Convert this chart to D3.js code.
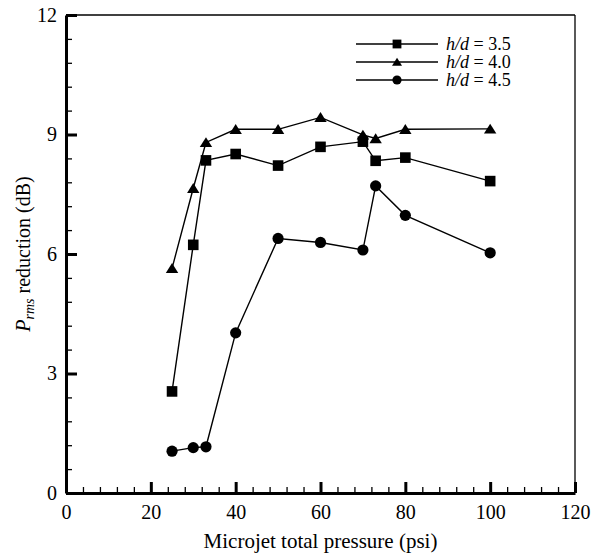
<!DOCTYPE html>
<html>
<head>
<meta charset="utf-8">
<script src="https://cdn.jsdelivr.net/npm/d3@7"></script>
<style>
  body { margin: 0; background: #fff; }
  text { font-family: "Liberation Serif", "Tinos", "Times New Roman", "DejaVu Serif", serif; }
</style>
</head>
<body>
<svg id="chart" width="591" height="555"></svg>
<script>
// microjet total pressure (psi)
const pressure = [25, 30, 33, 40, 50, 60, 70, 73, 80, 100];
// Prms reduction (dB) for each h/d
const hd35 = [2.55, 6.23, 8.35, 8.51, 8.22, 8.69, 8.82, 8.34, 8.42, 7.83];
const hd40 = [5.64, 7.65, 8.80, 9.13, 9.13, 9.43, 8.99, 8.90, 9.13, 9.14];
const hd45 = [1.05, 1.14, 1.16, 4.02, 6.39, 6.29, 6.10, 7.71, 6.97, 6.03];
const seriesNames = ['3.5', '4.0', '4.5'];
const xTicks = [0, 20, 40, 60, 80, 100, 120];
const yTicks = [0, 3, 6, 9, 12];

const plotL = 66, plotR = 575, plotT = 15, plotB = 493;

const svg = d3.select('#chart');

const x = d3.scaleLinear().domain([0, 120]).range([plotL, plotR]);
const y = d3.scaleLinear().domain([0, 12]).range([plotB, plotT]);

// marker shapes
const tri = s => `M0,${-s * 0.85}L${s},${s * 0.75}L${-s},${s * 0.75}Z`;
const shapes = [
  g => g.append('rect').attr('x', -5.3).attr('y', -5.3).attr('width', 10.6).attr('height', 10.6),
  g => g.append('path').attr('d', tri(6.2)),
  g => g.append('circle').attr('r', 5.6)
];
const legendShapes = [
  g => g.append('rect').attr('x', -4.4).attr('y', -4.4).attr('width', 8.8).attr('height', 8.8),
  g => g.append('path').attr('d', tri(5)),
  g => g.append('circle').attr('r', 4.6)
];

const series = [hd35, hd40, hd45].map((vals, i) =>
  ({ name: seriesNames[i], points: pressure.map((p, j) => ({ p: p, v: vals[j] })) }));

// thin frame on top / right
svg.append('line').attr('x1', plotL).attr('x2', plotR).attr('y1', plotT).attr('y2', plotT)
  .attr('stroke', '#000').attr('stroke-width', 1.3);
svg.append('line').attr('x1', plotR).attr('x2', plotR).attr('y1', plotT).attr('y2', plotB)
  .attr('stroke', '#000').attr('stroke-width', 1.3);

// minor ticks
svg.append('g').attr('transform', `translate(0,${plotB})`)
  .call(d3.axisBottom(x).tickValues(d3.range(0, 121, 4)).tickSize(-6).tickFormat(''))
  .call(g => g.select('.domain').remove())
  .call(g => g.selectAll('line').attr('stroke-width', 1.3));
svg.append('g').attr('transform', `translate(${plotL},0)`)
  .call(d3.axisLeft(y).tickValues(d3.range(0, 12.01, 0.6)).tickSize(-6).tickFormat(''))
  .call(g => g.select('.domain').remove())
  .call(g => g.selectAll('line').attr('stroke-width', 1.3));

// major ticks + labels
const xAxis = svg.append('g').attr('transform', `translate(0,${plotB})`)
  .call(d3.axisBottom(x).tickValues(xTicks).tickSizeInner(-11).tickSizeOuter(0).tickPadding(12));
const yAxis = svg.append('g').attr('transform', `translate(${plotL},0)`)
  .call(d3.axisLeft(y).tickValues(yTicks).tickSizeInner(-11).tickSizeOuter(0).tickPadding(9));
[xAxis, yAxis].forEach(a => {
  a.attr('font-family', null);
  a.select('.domain').attr('stroke-width', 3);
  a.selectAll('.tick line').attr('stroke-width', 3);
  a.selectAll('.tick text').attr('font-size', 20).attr('fill', '#000');
});

// lines and markers
const line = d3.line().x(d => x(d.p)).y(d => y(d.v));
series.forEach((s, i) => {
  svg.append('path').datum(s.points).attr('d', line)
    .attr('fill', 'none').attr('stroke', '#000').attr('stroke-width', 1.4);
  svg.append('g').selectAll('g').data(s.points).enter().append('g')
    .attr('transform', d => `translate(${x(d.p)},${y(d.v)})`)
    .each(function() { shapes[i](d3.select(this)); })
    .attr('fill', '#000');
});

// legend
const legend = svg.append('g');
seriesNames.forEach((n, i) => {
  const ly = 44 + i * 18;
  legend.append('line').attr('x1', 356).attr('x2', 438).attr('y1', ly).attr('y2', ly)
    .attr('stroke', '#000').attr('stroke-width', 1.4);
  const m = legend.append('g').attr('transform', `translate(397,${ly})`).attr('fill', '#000');
  legendShapes[i](m);
  const t = legend.append('text').attr('x', 446).attr('y', ly + 6).attr('font-size', 18);
  t.append('tspan').attr('font-style', 'italic').text('h/d');
  t.append('tspan').text(' = ' + n);
});

// axis titles
svg.append('text').attr('x', (plotL + plotR) / 2).attr('y', 548)
  .attr('text-anchor', 'middle').attr('font-size', 21).text('Microjet total pressure (psi)');
const yt = svg.append('text').attr('transform', `translate(30,${(plotT + plotB) / 2}) rotate(-90)`)
  .attr('text-anchor', 'middle').attr('font-size', 20);
yt.append('tspan').attr('font-style', 'italic').text('P');
yt.append('tspan').attr('font-style', 'italic').attr('font-size', 14).attr('dy', 4).text('rms');
yt.append('tspan').attr('dy', -4).text(' reduction (dB)');
</script>
</body>
</html>
